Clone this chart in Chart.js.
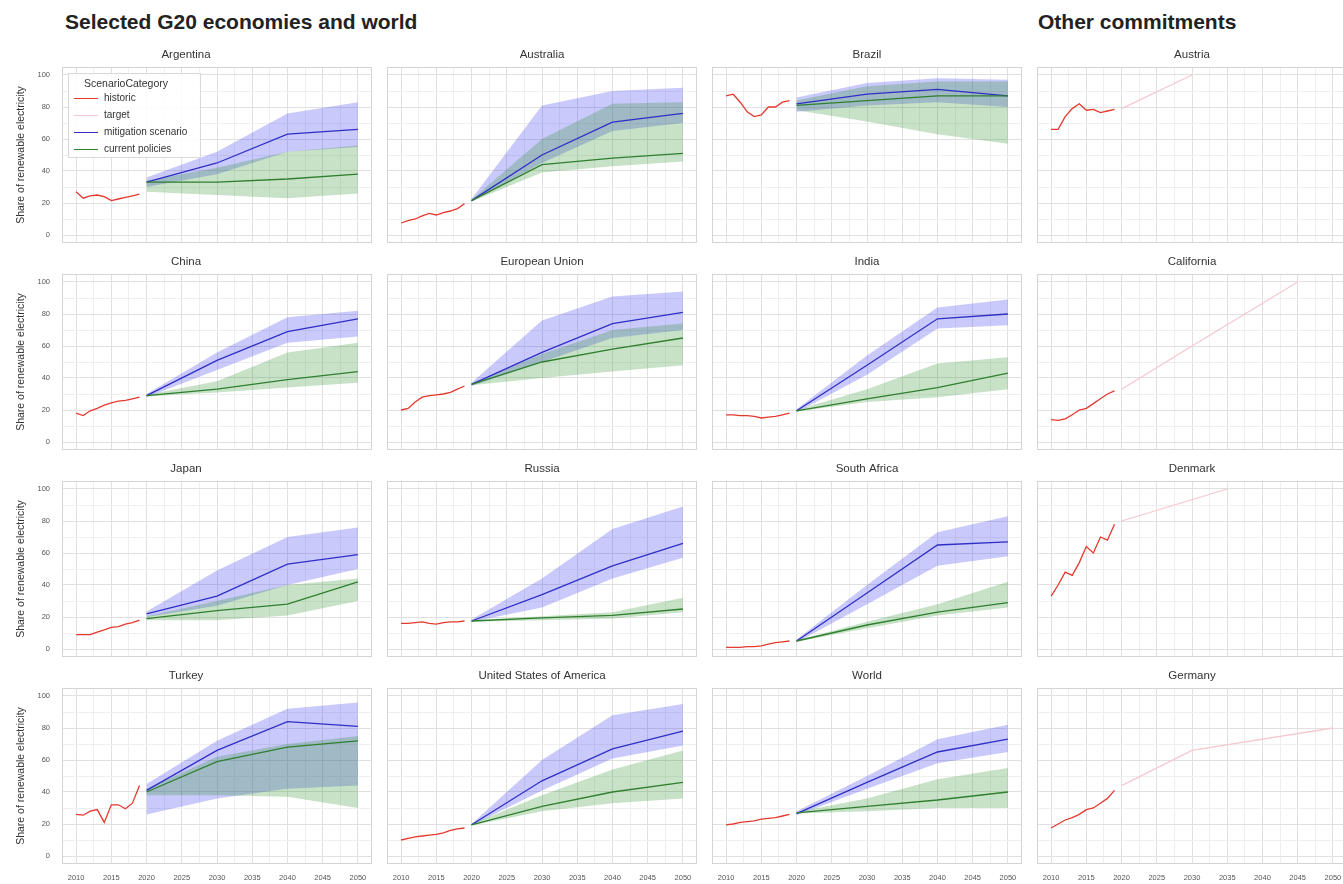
<!DOCTYPE html>
<html>
<head>
<meta charset="utf-8">
<script src="https://cdn.jsdelivr.net/npm/chart.js@4.4.0/dist/chart.umd.min.js"></script>
<style>
  body { margin: 0; width: 1343px; height: 884px; overflow: hidden; background: #fff; position: relative;
         font-family: Arial, "Liberation Sans", sans-serif; }
  .hdr { position: absolute; top: 10px; font-weight: bold; font-size: 21px; line-height: 24px; color: #222; }
  canvas { position: absolute; }
  #legend { position: absolute; left: 68px; top: 73px; width: 131px; height: 83px; z-index: 5;
            border: 1px solid #d9d9d9; background: rgba(255,255,255,0.85); font-size: 10px; color: #333; }
  #legend .ttl { position: absolute; left: 15px; top: 2px; font-size: 10.5px; line-height: 14px; }
  #legend .row { position: absolute; left: 5px; height: 14px; line-height: 14px; }
  #legend .sw { position: absolute; left: 0; top: 7px; width: 24px; height: 0; border-top: 1.5px solid; }
  #legend .lb { position: absolute; left: 30px; top: 0; white-space: nowrap; }
</style>
</head>
<body>
<div class="hdr" style="left:65px">Selected G20 economies and world</div>
<div class="hdr" style="left:1038px">Other commitments</div>
<div id="legend"><div class="ttl">ScenarioCategory</div></div>
<script>
// panels
const g20Panels = ['Argentina', 'Australia', 'Brazil', 'China', 'European Union', 'India',
                   'Japan', 'Russia', 'South Africa', 'Turkey', 'United States of America', 'World'];
const otherPanels = ['Austria', 'California', 'Denmark', 'Germany'];

// years
const histYears = [2010, 2011, 2012, 2013, 2014, 2015, 2016, 2017, 2018, 2019];
const projYears = [2020, 2030, 2040, 2050];

// tick labels
const xTicks = [2010, 2015, 2020, 2025, 2030, 2035, 2040, 2045, 2050];
const yTicks = [0, 20, 40, 60, 80, 100];

// historic share of renewable electricity (%)
const historic = {
  'Argentina': [27, 23, 24.5, 25, 24, 21.5, 22.5, 23.5, 24.5, 25.5],
  'Australia': [7.5, 9, 10, 12, 13.5, 12.5, 14, 15, 16.5, 19.5],
  'Brazil': [87, 88, 83, 77, 74, 75, 80, 80, 83, 84],
  'China': [18, 16.5, 19.5, 21, 23, 24.5, 25.5, 26, 27, 28],
  'European Union': [20, 21, 25, 28, 29, 29.5, 30, 31, 33, 35],
  'India': [17, 17, 16.5, 16.5, 16, 15, 15.5, 16, 17, 18],
  'Japan': [9, 9, 9, 10.5, 12, 13.5, 14, 15.5, 16.5, 18],
  'Russia': [16, 16, 16.5, 17, 16, 15.5, 16.5, 17, 17, 17.5],
  'South Africa': [1, 1, 1, 1.5, 1.5, 2, 3, 4, 4.5, 5],
  'Turkey': [26, 25.5, 28, 29, 21, 32, 32, 29.5, 33, 44],
  'United States of America': [10, 11, 12, 12.5, 13, 13.5, 14.5, 16, 17, 17.5],
  'World': [19.5, 20, 21, 21.5, 22, 23, 23.5, 24, 25, 26],
  'Austria': [66, 66, 74, 79, 82, 78, 78.5, 76.5, 77.5, 78.5],
  'California': [14, 13.5, 14.5, 17, 20, 21, 24, 27, 30, 32],
  'Denmark': [33, 40, 48, 46, 54, 64, 60, 70, 68, 78],
  'Germany': [17.5, 20, 22.5, 24, 26, 29, 30, 33, 36, 41]
};

// mitigation scenarios: median, low, high (2020, 2030, 2040, 2050)
const mitMedian = {
  'Argentina': [33, 45, 63, 66], 'Australia': [21.5, 50, 70.5, 76], 'Brazil': [82, 88, 91, 87],
  'China': [29, 51, 69, 77], 'European Union': [36, 56, 74, 81], 'India': [19.5, 48, 77, 80],
  'Japan': [22, 33, 53, 59], 'Russia': [17.5, 34, 52, 66], 'South Africa': [5, 35, 65, 67],
  'Turkey': [41, 66, 84, 81], 'United States of America': [19.5, 47, 67, 78], 'World': [26.5, 46, 65, 73]
};
const mitLow = {
  'Argentina': [30, 38, 52, 55], 'Australia': [21, 45, 65, 70], 'Brazil': [77, 81, 83, 80],
  'China': [28, 45, 62, 66], 'European Union': [35, 50, 65, 70], 'India': [18.5, 42, 71, 73],
  'Japan': [20, 27, 40, 50], 'Russia': [17, 26, 44, 57], 'South Africa': [4, 28, 52, 58],
  'Turkey': [26, 36, 42, 44], 'United States of America': [19, 41, 61, 69], 'World': [25.5, 42, 58, 65]
};
const mitHigh = {
  'Argentina': [36, 52, 76, 83], 'Australia': [22.5, 81, 90, 92], 'Brazil': [86, 95, 98, 97],
  'China': [30, 56, 78, 82], 'European Union': [37, 76, 91, 94], 'India': [20.5, 54, 84, 89],
  'Japan': [23.5, 49, 70, 76], 'Russia': [18.5, 44, 75, 89], 'South Africa': [6, 40, 73, 83],
  'Turkey': [45, 72, 92, 96], 'United States of America': [20, 60, 88, 95], 'World': [28, 50, 73, 82]
};

// current policies: median, low, high (2020, 2030, 2040, 2050)
const curMedian = {
  'Argentina': [33, 33, 35, 38], 'Australia': [21.5, 44, 48, 51], 'Brazil': [81, 84, 87, 87],
  'China': [29, 33, 39, 44], 'European Union': [36, 50, 58, 65], 'India': [19.5, 27, 34, 43],
  'Japan': [19, 24, 28, 42], 'Russia': [17.5, 19.5, 21, 25], 'South Africa': [5, 15, 23, 29],
  'Turkey': [40, 59, 68, 72], 'United States of America': [19.5, 31, 40, 46], 'World': [27, 31, 35, 40]
};
const curLow = {
  'Argentina': [27, 25, 23, 26], 'Australia': [21, 39, 43, 46], 'Brazil': [78, 71, 63, 57],
  'China': [28.5, 31, 34, 37], 'European Union': [35.5, 40, 44, 48], 'India': [19, 25, 28, 33],
  'Japan': [18, 18, 21, 30], 'Russia': [17, 18, 19, 23], 'South Africa': [4.5, 13, 21, 26],
  'Turkey': [38, 38, 37, 30], 'United States of America': [19, 28, 33, 36], 'World': [26.5, 28, 30, 30]
};
const curHigh = {
  'Argentina': [34, 42, 52, 56], 'Australia': [22, 60, 82, 83], 'Brazil': [84, 93, 96, 96],
  'China': [29.5, 38, 56, 62], 'European Union': [36.5, 55, 70, 74], 'India': [20, 33, 49, 53],
  'Japan': [20.5, 30, 40, 44], 'Russia': [18, 20.5, 23, 32], 'South Africa': [5.5, 17, 28, 42],
  'Turkey': [42, 62, 70, 75], 'United States of America': [20, 38, 54, 66], 'World': [27.5, 36, 48, 55]
};

// targets
const targetYears = {
  'Austria': [2020, 2030], 'California': [2020, 2030, 2045],
  'Denmark': [2020, 2035], 'Germany': [2020, 2030, 2050]
};
const targetValues = {
  'Austria': [79, 100], 'California': [33, 60, 100],
  'Denmark': [80, 100], 'Germany': [44, 66, 80]
};

const legendLabels = ['historic', 'target', 'mitigation scenario', 'current policies'];
const lineColors = ['#e4392e', '#f6c8cf', '#2f2fc6', '#2f7f2f'];
const bandColors = { mit: 'rgba(40,40,240,0.25)', cur: 'rgba(34,139,34,0.25)' };

const FONT = 'Arial, "Liberation Sans", sans-serif';
Chart.defaults.font.family = FONT;

// layout
const plotLeft = 62, colPitch = 325, plotW = 310;
const plotTop = 67, rowPitch = 207, plotH = 176;
const titleH = 22, xAxisH = 24;
const gridMajor = '#e0e0e0', gridMinor = '#efefef', borderCol = '#d4d4d4';

// legend
legendLabels.forEach((lab, i) => {
  const r = document.createElement('div');
  r.className = 'row';
  r.style.top = (17 + i * 17) + 'px';
  r.innerHTML = '<div class="sw" style="border-color:' + lineColors[i] + '"></div><div class="lb">' + lab + '</div>';
  document.getElementById('legend').appendChild(r);
});

const panelBorder = {
  id: 'panelBorder',
  afterDraw(chart) {
    const a = chart.chartArea, c = chart.ctx;
    c.save();
    c.strokeStyle = borderCol;
    c.lineWidth = 1;
    c.strokeRect(a.left + 0.5, a.top + 0.5, a.right - a.left - 1, a.bottom - a.top - 1);
    c.restore();
  }
};

function pts(xs, ys) { return xs.map((x, i) => ({ x: x, y: ys[i] })); }

function lineDs(xs, ys, color) {
  return { data: pts(xs, ys), borderColor: color, borderWidth: 1.3, pointRadius: 0, fill: false, tension: 0 };
}
function bandDs(xs, ys, color, fill) {
  return { data: pts(xs, ys), borderWidth: 0, borderColor: 'rgba(0,0,0,0)', backgroundColor: color,
           pointRadius: 0, fill: fill, tension: 0 };
}

function midpoints(arr) {
  const out = [];
  arr.forEach((v, i) => { out.push(v); if (i < arr.length - 1) out.push((v + arr[i + 1]) / 2); });
  return out;
}
const xGrid = midpoints(xTicks);
const yGrid = midpoints(yTicks);

function noPad(s) { s.paddingLeft = 0; s.paddingRight = 0; s.paddingTop = 0; s.paddingBottom = 0; }

function drawPanel(name, col, row) {
  const left = col === 0 ? 0 : plotLeft + col * colPitch;
  const width = col === 0 ? plotLeft + plotW : plotW;
  const top = plotTop + row * rowPitch - titleH;
  const bottomRow = row === 3;
  const height = titleH + plotH + (bottomRow ? xAxisH : 0);
  const cv = document.createElement('canvas');
  cv.width = width; cv.height = height;
  cv.style.left = left + 'px'; cv.style.top = top + 'px';
  document.body.appendChild(cv);

  const datasets = [];
  if (historic[name]) datasets.push(lineDs(histYears, historic[name], lineColors[0]));
  if (targetYears[name]) datasets.push(lineDs(targetYears[name], targetValues[name], lineColors[1]));
  if (mitMedian[name]) {
    datasets.push(lineDs(projYears, curMedian[name], lineColors[3]));
    datasets.push(lineDs(projYears, mitMedian[name], lineColors[2]));
    datasets.push(bandDs(projYears, curHigh[name], bandColors.cur, '+1'));
    datasets.push(bandDs(projYears, curLow[name], bandColors.cur, false));
    datasets.push(bandDs(projYears, mitHigh[name], bandColors.mit, '+1'));
    datasets.push(bandDs(projYears, mitLow[name], bandColors.mit, false));
  }

  new Chart(cv, {
    type: 'line',
    data: { datasets: datasets },
    plugins: [panelBorder],
    options: {
      responsive: false, animation: false, devicePixelRatio: 1,
      layout: { padding: 0 },
      plugins: {
        legend: { display: false },
        tooltip: { enabled: false },
        filler: { drawTime: 'beforeDatasetsDraw' },
        title: { display: true, text: name, color: '#333', font: { size: 11.5, weight: 'normal' },
                 padding: { top: 3, bottom: 5.2 } }
      },
      scales: {
        x: {
          type: 'linear', min: 2008, max: 2052,
          afterBuildTicks: s => { s.ticks = xGrid.map(v => ({ value: v })); },
          afterFit: s => { s.height = bottomRow ? xAxisH : 0; noPad(s); },
          border: { display: false },
          grid: { drawTicks: false, lineWidth: 1,
                  color: c => xTicks.includes(c.tick.value) ? gridMajor : gridMinor },
          ticks: { display: bottomRow, autoSkip: false, maxRotation: 0, padding: 9, color: '#555',
                   font: { size: 7.5 }, callback: v => xTicks.includes(v) ? String(v) : '' }
        },
        y: {
          type: 'linear', min: -5, max: 105,
          afterBuildTicks: s => { s.ticks = yGrid.map(v => ({ value: v })); },
          afterFit: s => { s.width = col === 0 ? plotLeft : 0; noPad(s); },
          border: { display: false },
          grid: { drawTicks: false, lineWidth: 1,
                  color: c => yTicks.includes(c.tick.value) ? gridMajor : gridMinor },
          title: { display: col === 0, text: 'Share of renewable electricity', color: '#333',
                   font: { size: 10.5 }, padding: { top: 15, bottom: 0 } },
          ticks: { display: col === 0, autoSkip: false, padding: 12, color: '#555',
                   font: { size: 7.5 }, callback: v => yTicks.includes(v) ? String(v) : '' }
        }
      }
    }
  });
}

g20Panels.forEach((name, i) => drawPanel(name, i % 3, Math.floor(i / 3)));
otherPanels.forEach((name, i) => drawPanel(name, 3, i));
</script>
</body>
</html>
